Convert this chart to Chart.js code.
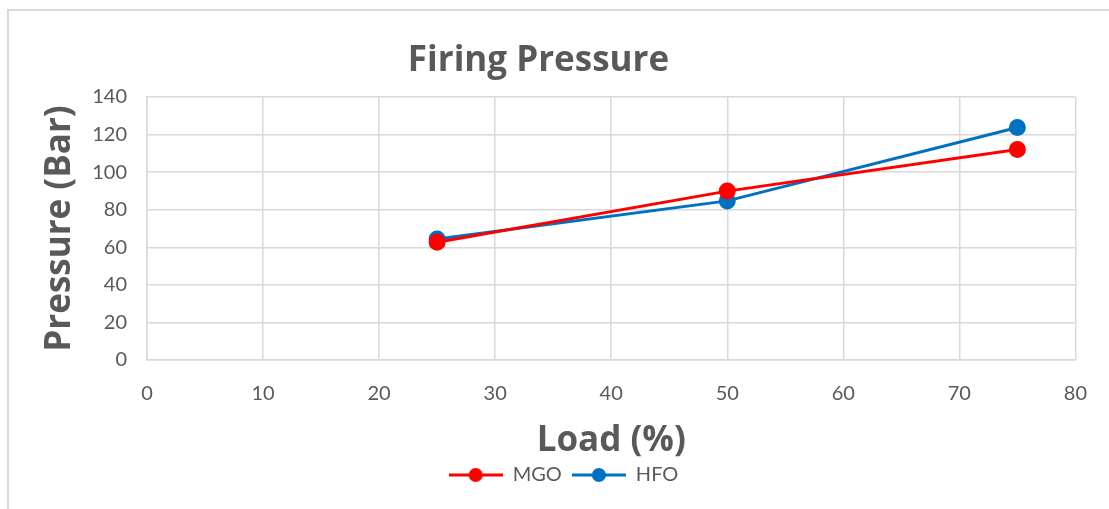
<!DOCTYPE html>
<html>
<head>
<meta charset="utf-8">
<script src="https://cdn.jsdelivr.net/npm/chart.js@4"></script>
<style>
  html, body { margin: 0; padding: 0; background: #ffffff; }
  #frame { position: absolute; left: 7px; top: 9px; width: 1200px; height: 600px;
           border-top: 2px solid #d9d9d9; border-left: 2px solid #d9d9d9; }
  #wrap { position: absolute; left: 0; top: 0; width: 1109px; height: 509px; }
</style>
</head>
<body>
<div id="frame"></div>
<div id="wrap"><canvas id="lineChart"></canvas></div>
<script>
const loads = [25, 50, 75];
const mgoValues = [62.7, 89.9, 112];
const hfoValues = [64.4, 84.7, 123.8];
const xTicks = [0, 10, 20, 30, 40, 50, 60, 70, 80];
const yTicks = [0, 20, 40, 60, 80, 100, 120, 140];

const textColor = '#595959';
const gridColor = '#d9d9d9';
const mgoColor = '#ff0000';
const hfoColor = '#0070c0';
const fontFamily = 'Lato, "Open Sans", sans-serif';
const titleFamily = '"Open Sans", Lato, sans-serif';

function legendMark(color) {
    const c = document.createElement('canvas');
    c.width = 54;
    c.height = 16;
    const ctx = c.getContext('2d');
    ctx.strokeStyle = color;
    ctx.lineWidth = 3;
    ctx.beginPath();
    ctx.moveTo(0, 8);
    ctx.lineTo(54, 8);
    ctx.stroke();
    ctx.fillStyle = color;
    ctx.beginPath();
    ctx.arc(27, 8, 7, 0, Math.PI * 2);
    ctx.fill();
    return c;
}

function toPoints(values) {
    return loads.map(function (x, i) { return { x: x, y: values[i] }; });
}

// Excel puts the legend a little right of centre and tight under the axis title
const legendShift = {
    id: 'legendShift',
    afterLayout: function (chart) {
        chart.legend.left += 25;
        chart.legend.right += 25;
        chart.legend.top -= 7;
        chart.legend.bottom -= 7;
    }
};

const lineChart = document.getElementById('lineChart');
if (lineChart) {
    new Chart(lineChart, {
        type: 'line',
        plugins: [legendShift],
        data: {
            datasets: [
                {
                    label: 'MGO',
                    data: toPoints(mgoValues),
                    borderColor: mgoColor,
                    backgroundColor: mgoColor,
                    borderWidth: 3,
                    pointRadius: 7,
                    pointHoverRadius: 7,
                    pointStyle: 'circle',
                    legendMark: legendMark(mgoColor)
                },
                {
                    label: 'HFO',
                    data: toPoints(hfoValues),
                    borderColor: hfoColor,
                    backgroundColor: hfoColor,
                    borderWidth: 3,
                    pointRadius: 7,
                    pointHoverRadius: 7,
                    pointStyle: 'circle',
                    legendMark: legendMark(hfoColor)
                }
            ]
        },
        options: {
            responsive: true,
            maintainAspectRatio: false,
            animation: false,
            layout: {
                padding: { left: 0, right: 32, top: 0, bottom: 7 }
            },
            plugins: {
                title: {
                    display: true,
                    text: 'Firing Pressure',
                    color: textColor,
                    font: { family: titleFamily, size: 35, weight: 'bold', lineHeight: 1.2 },
                    padding: { top: 40, bottom: 15 }
                },
                legend: {
                    position: 'bottom',
                    labels: {
                        color: textColor,
                        font: { family: fontFamily, size: 20 },
                        usePointStyle: true,
                        pointStyleWidth: 54,
                        padding: 10,
                        generateLabels: function (chart) {
                            return chart.data.datasets.map(function (ds, i) {
                                return {
                                    text: ds.label,
                                    pointStyle: ds.legendMark,
                                    fontColor: textColor,
                                    strokeStyle: ds.borderColor,
                                    fillStyle: ds.backgroundColor,
                                    lineWidth: 0,
                                    hidden: false,
                                    datasetIndex: i
                                };
                            });
                        }
                    }
                },
                tooltip: { enabled: false }
            },
            scales: {
                x: {
                    type: 'linear',
                    min: 0,
                    max: 80,
                    afterFit: function (scale) { scale.height = 102; },
                    afterBuildTicks: function (scale) {
                        scale.ticks = xTicks.map(function (v) { return { value: v }; });
                    },
                    grid: { color: gridColor, drawTicks: false, lineWidth: 1.5 },
                    border: { color: gridColor, width: 1.5 },
                    ticks: {
                        color: textColor,
                        font: { family: fontFamily, size: 20 },
                        padding: 22,
                        maxRotation: 0
                    },
                    title: {
                        display: true,
                        text: 'Load (%)',
                        color: textColor,
                        font: { family: titleFamily, size: 35, weight: 'bold', lineHeight: 1.2 },
                        padding: { top: 0, bottom: 0 }
                    }
                },
                y: {
                    min: 0,
                    max: 140,
                    afterFit: function (scale) { scale.width = 147; },
                    afterBuildTicks: function (scale) {
                        scale.ticks = yTicks.map(function (v) { return { value: v }; });
                    },
                    grid: { color: gridColor, drawTicks: false, lineWidth: 1.5 },
                    border: { color: gridColor, width: 1.5 },
                    ticks: {
                        color: textColor,
                        font: { family: fontFamily, size: 20 },
                        padding: 20
                    },
                    title: {
                        display: true,
                        text: 'Pressure (Bar)',
                        color: textColor,
                        font: { family: titleFamily, size: 35, weight: 'bold', lineHeight: 1.2 },
                        padding: { top: 39, bottom: 0 }
                    }
                }
            }
        }
    });
}
</script>
</body>
</html>
